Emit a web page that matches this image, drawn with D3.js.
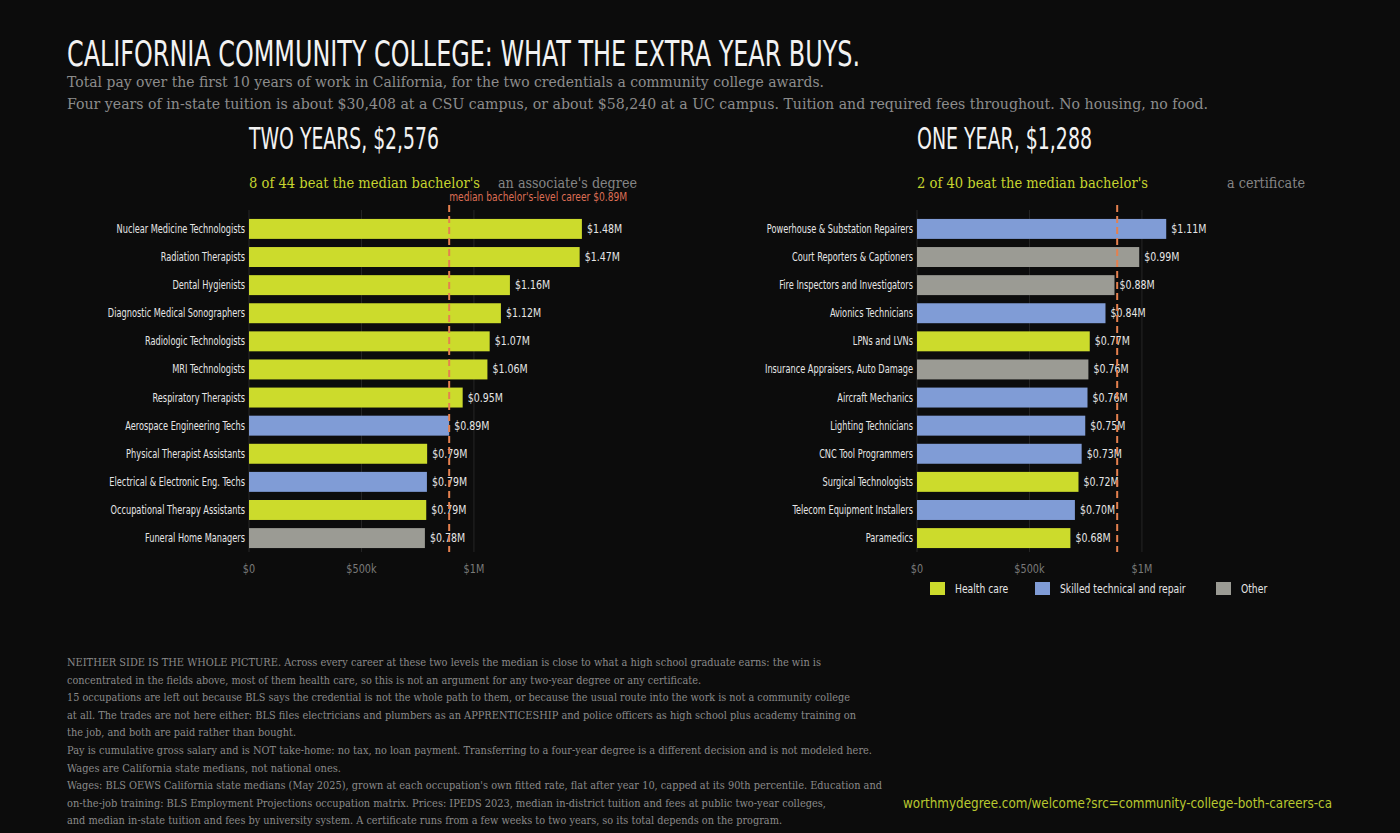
<!DOCTYPE html>
<html>
<head>
<meta charset="utf-8">
<script src="https://cdn.jsdelivr.net/npm/d3@7"></script>
<style>
  body { margin: 0; background: #0c0c0c; }
  .cond { font-family: "Liberation Sans Narrow", "DejaVu Sans Condensed", "Roboto", sans-serif; font-stretch: condensed; }
  .serif { font-family: "DejaVu Serif", "Liberation Serif", serif; }
</style>
</head>
<body>
<svg id="chart" width="1400" height="833"></svg>
<script>
// data (values in dollars)

var twoYearJobs = ["Nuclear Medicine Technologists", "Radiation Therapists", "Dental Hygienists",
  "Diagnostic Medical Sonographers", "Radiologic Technologists", "MRI Technologists",
  "Respiratory Therapists", "Aerospace Engineering Techs", "Physical Therapist Assistants",
  "Electrical & Electronic Eng. Techs", "Occupational Therapy Assistants", "Funeral Home Managers"];
var twoYearPay = [1480000, 1470000, 1160000, 1120000, 1070000, 1060000, 950000, 890000, 792000, 791000, 788000, 782000];
var twoYearGroup = ["Health care", "Health care", "Health care", "Health care", "Health care", "Health care",
  "Health care", "Skilled technical and repair", "Health care", "Skilled technical and repair", "Health care", "Other"];

var oneYearJobs = ["Powerhouse & Substation Repairers", "Court Reporters & Captioners", "Fire Inspectors and Investigators",
  "Avionics Technicians", "LPNs and LVNs", "Insurance Appraisers, Auto Damage", "Aircraft Mechanics",
  "Lighting Technicians", "CNC Tool Programmers", "Surgical Technologists", "Telecom Equipment Installers", "Paramedics"];
var oneYearPay = [1108000, 988000, 878000, 838000, 768000, 762000, 758000, 748000, 732000, 718000, 702000, 682000];
var oneYearGroup = ["Skilled technical and repair", "Other", "Other", "Skilled technical and repair", "Health care", "Other",
  "Skilled technical and repair", "Skilled technical and repair", "Skilled technical and repair", "Health care",
  "Skilled technical and repair", "Health care"];

var groups = ["Health care", "Skilled technical and repair", "Other"];
var medianBachelor = 890000;
var xTicks = [0, 500000, 1000000];
var xTickLabels = ["$0", "$500k", "$1M"];

var footnotes = [
  "NEITHER SIDE IS THE WHOLE PICTURE. Across every career at these two levels the median is close to what a high school graduate earns: the win is",
  "concentrated in the fields above, most of them health care, so this is not an argument for any two-year degree or any certificate.",
  "15 occupations are left out because BLS says the credential is not the whole path to them, or because the usual route into the work is not a community college",
  "at all. The trades are not here either: BLS files electricians and plumbers as an APPRENTICESHIP and police officers as high school plus academy training on",
  "the job, and both are paid rather than bought.",
  "Pay is cumulative gross salary and is NOT take-home: no tax, no loan payment. Transferring to a four-year degree is a different decision and is not modeled here.",
  "Wages are California state medians, not national ones.",
  "Wages: BLS OEWS California state medians (May 2025), grown at each occupation's own fitted rate, flat after year 10, capped at its 90th percentile. Education and",
  "on-the-job training: BLS Employment Projections occupation matrix. Prices: IPEDS 2023, median in-district tuition and fees at public two-year colleges,",
  "and median in-state tuition and fees by university system. A certificate runs from a few weeks to two years, so its total depends on the program."
];
var footnoteEnds = [821, 701, 850, 856, 296, 872, 341, 882, 826, 782]; // right edge of each line

var svg = d3.select("#chart");
var color = d3.scaleOrdinal().domain(groups).range(["#ccdb2c", "#809cd6", "#9b9b94"]);
var money = v => "$" + (v / 1e6).toFixed(2) + "M";

// the installed condensed face is wider than the original one, squeeze it a bit
function squeeze(sel, k) {
  sel.each(function () {
    var w = this.getComputedTextLength();
    d3.select(this).attr("textLength", w * k).attr("lengthAdjust", "spacingAndGlyphs");
  });
}

svg.append("rect").attr("width", 1400).attr("height", 833).attr("fill", "#0c0c0c");

// headline block
svg.append("text").attr("class", "cond")
  .attr("x", 67).attr("y", 66)
  .attr("textLength", 793).attr("lengthAdjust", "spacingAndGlyphs")
  .attr("font-size", 36).attr("fill", "#f2f2f2")
  .text("CALIFORNIA COMMUNITY COLLEGE: WHAT THE EXTRA YEAR BUYS.");

svg.append("text").attr("class", "serif")
  .attr("x", 67).attr("y", 87)
  .attr("textLength", 757).attr("lengthAdjust", "spacingAndGlyphs")
  .attr("font-size", 15.5).attr("fill", "#8c8c8c")
  .text("Total pay over the first 10 years of work in California, for the two credentials a community college awards.");

svg.append("text").attr("class", "serif")
  .attr("x", 67).attr("y", 109)
  .attr("textLength", 1141).attr("lengthAdjust", "spacingAndGlyphs")
  .attr("font-size", 15.5).attr("fill", "#8c8c8c")
  .text("Four years of in-state tuition is about $30,408 at a CSU campus, or about $58,240 at a UC campus. Tuition and required fees throughout. No housing, no food.");

function drawPanel(left, jobs, pay, group, opts) {
  var g = svg.append("g").attr("transform", `translate(${left},0)`);

  var x = d3.scaleLinear().domain([0, 1725000]).range([0, 388]);
  var y = d3.scaleBand().domain(jobs).range([215, 552]).paddingInner(0.29).paddingOuter(0.14);

  g.append("text").attr("class", "cond")
    .attr("x", 0).attr("y", 149)
    .attr("textLength", opts.headWidth).attr("lengthAdjust", "spacingAndGlyphs")
    .attr("font-size", 30).attr("fill", "#f2f2f2")
    .text(opts.head);

  g.append("text").attr("class", "serif")
    .attr("x", 0).attr("y", 188)
    .attr("textLength", 231).attr("lengthAdjust", "spacingAndGlyphs")
    .attr("font-size", 15).attr("fill", "#c6d42f")
    .text(opts.beat);

  g.append("text").attr("class", "serif")
    .attr("x", 388).attr("y", 188).attr("text-anchor", "end")
    .attr("textLength", opts.credWidth).attr("lengthAdjust", "spacingAndGlyphs")
    .attr("font-size", 15).attr("fill", "#858585")
    .text(opts.credential);

  // grid
  g.selectAll(".grid").data(xTicks).join("line")
    .attr("x1", d => x(d)).attr("x2", d => x(d))
    .attr("y1", 210).attr("y2", 552)
    .attr("stroke", "#262626").attr("stroke-width", 1);

  // bars
  g.selectAll(".bar").data(jobs).join("rect")
    .attr("x", x(0))
    .attr("y", d => y(d))
    .attr("width", (d, i) => x(pay[i]) - x(0))
    .attr("height", y.bandwidth())
    .attr("fill", (d, i) => color(group[i]));

  // category labels
  g.selectAll(".cat").data(jobs).join("text").attr("class", "cond")
    .attr("x", -4)
    .attr("y", d => y(d) + y.bandwidth() / 2 + 4)
    .attr("text-anchor", "end")
    .attr("font-size", 12).attr("fill", "#e6e6e6")
    .text(d => d)
    .call(squeeze, 0.76);

  // value labels
  g.selectAll(".val").data(jobs).join("text").attr("class", "cond")
    .attr("x", (d, i) => x(pay[i]) + 5)
    .attr("y", d => y(d) + y.bandwidth() / 2 + 4)
    .attr("font-size", 12.5).attr("fill", "#e6e6e6")
    .text((d, i) => money(pay[i]))
    .call(squeeze, 0.84);

  // median bachelor's line
  g.append("line")
    .attr("x1", x(medianBachelor)).attr("x2", x(medianBachelor))
    .attr("y1", 205).attr("y2", 552)
    .attr("stroke", "#e5804f").attr("stroke-width", 2)
    .attr("stroke-dasharray", "7,4");

  if (opts.medianLabel) {
    g.append("text").attr("class", "cond")
      .attr("x", x(medianBachelor)).attr("y", 201)
      .attr("textLength", 178).attr("lengthAdjust", "spacingAndGlyphs")
      .attr("font-size", 11.5).attr("fill", "#dd6e55")
      .text("median bachelor's-level career  " + money(medianBachelor));
  }

  // x axis tick labels
  g.selectAll(".tick").data(xTicks).join("text").attr("class", "cond")
    .attr("x", d => x(d)).attr("y", 573)
    .attr("text-anchor", "middle")
    .attr("font-size", 12.5).attr("fill", "#7a7a7a")
    .text((d, i) => xTickLabels[i])
    .call(squeeze, 0.86);

  return g;
}

drawPanel(249, twoYearJobs, twoYearPay, twoYearGroup, {
  head: "TWO YEARS, $2,576", headWidth: 190,
  beat: "8 of 44 beat the median bachelor's",
  credential: "an associate's degree", credWidth: 139,
  medianLabel: true
});

drawPanel(917, oneYearJobs, oneYearPay, oneYearGroup, {
  head: "ONE YEAR, $1,288", headWidth: 175,
  beat: "2 of 40 beat the median bachelor's",
  credential: "a certificate", credWidth: 78,
  medianLabel: false
});

// legend
var legendX = [930, 1035, 1216];
var legend = svg.selectAll(".legend").data(groups).join("g")
  .attr("transform", (d, i) => `translate(${legendX[i]},582)`);
legend.append("rect").attr("width", 15).attr("height", 13).attr("fill", d => color(d));
legend.append("text").attr("class", "cond")
  .attr("x", 25).attr("y", 11)
  .attr("font-size", 12.5).attr("fill", "#e6e6e6")
  .text(d => d)
  .call(squeeze, 0.82);

// footnotes
svg.selectAll(".note").data(footnotes).join("text").attr("class", "serif")
  .attr("x", 67)
  .attr("y", (d, i) => 666 + i * 17.6)
  .attr("textLength", (d, i) => footnoteEnds[i] - 67)
  .attr("lengthAdjust", "spacingAndGlyphs")
  .attr("font-size", 11.5).attr("fill", "#8a8a8a")
  .text(d => d);

svg.append("text").attr("class", "cond")
  .attr("x", 903).attr("y", 808)
  .attr("font-size", 14.5).attr("fill", "#b9c82f")
  .attr("textLength", 429).attr("lengthAdjust", "spacingAndGlyphs")
  .text("worthmydegree.com/welcome?src=community-college-both-careers-ca");
</script>
</body>
</html>
